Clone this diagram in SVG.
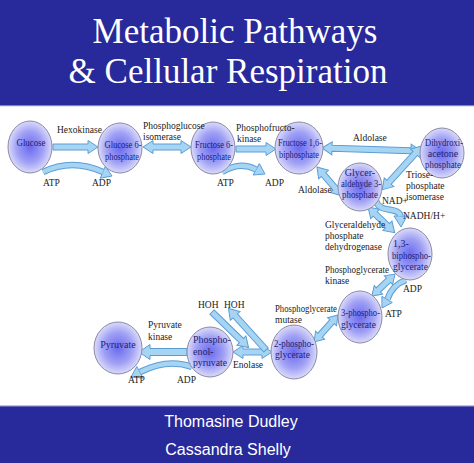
<svg xmlns="http://www.w3.org/2000/svg" width="474" height="463" viewBox="0 0 474 463">
<defs>
<radialGradient id="ng" cx="50%" cy="50%" r="50%">
<stop offset="0" stop-color="#6a6aef"/>
<stop offset="0.6" stop-color="#a0a0f5"/>
<stop offset="1" stop-color="#dadafa"/>
</radialGradient>
<style>
.band{fill:#28299b}
.title{font-family:"Liberation Serif",serif;font-size:35px;fill:#fff;text-anchor:middle}
.auth{font-family:"Liberation Sans",sans-serif;font-size:16px;fill:#fff;text-anchor:middle}
.node ellipse{fill:url(#ng);stroke:#8a8aa6;stroke-width:1}
.nt{font-family:"Liberation Serif",serif;font-size:10px;fill:#1e1e70}
.m{text-anchor:middle}
.lb{font-family:"Liberation Serif",serif;font-size:9.5px;fill:#1a1a1a}
.ar{fill:#a6d4f3;stroke:#5c9dd6;stroke-width:1;stroke-linejoin:miter}
.co{fill:none;stroke:#5c9dd6;stroke-width:6.5}
.ci{fill:none;stroke:#a6d4f3;stroke-width:4.5}
</style>
</defs>
<rect width="474" height="463" fill="#fff"/>
<rect class="band" x="0" y="0" width="474" height="106"/>
<rect x="0" y="105" width="474" height="1.2" fill="#7f80c8"/>
<text class="title" x="235" y="43">Metabolic Pathways</text>
<text class="title" x="228" y="83">&amp; Cellular Respiration</text>
<rect class="band" x="0" y="406" width="474" height="57"/>
<rect x="0" y="405.5" width="474" height="1.2" fill="#7f80c8"/>
<text class="auth" x="231" y="427">Thomasine Dudley</text>
<text class="auth" x="228" y="455">Cassandra Shelly</text>

<g id="connectors">
<polygon class="ar" transform="translate(53,147)" points="0,-3 35,-3 35,-6.5 45,0 35,6.5 35,3 0,3"/>
<polygon class="ar" transform="translate(143,147)" points="0,0 10,-6.5 10,-3 38,-3 38,-6.5 48,0 38,6.5 38,3 10,3 10,6.5"/>
<polygon class="ar" transform="translate(236,149)" points="0,-3 30,-3 30,-6.5 40,0 30,6.5 30,3 0,3"/>
<polygon class="ar" transform="translate(322,148) rotate(1.7)" points="0,0 10,-6.5 10,-3 89,-3 89,-6.5 99,0 89,6.5 89,3 10,3 10,6.5"/>
<polygon class="ar" transform="translate(317,167) rotate(49.2)" points="0,0 10,-6.5 10,-3 28,-3 28,-6.5 38,0 28,6.5 28,3 10,3 10,6.5"/>
<polygon class="ar" transform="translate(422,146) rotate(132.3)" points="0,0 10,-6.5 10,-3 49,-3 49,-6.5 59,0 49,6.5 49,3 10,3 10,6.5"/>
<polygon class="ar" transform="translate(368,207) rotate(43.9)" points="0,0 10,-6.5 10,-3 27,-3 27,-6.5 37,0 27,6.5 27,3 10,3 10,6.5"/>
<polygon class="ar" transform="translate(395,274) rotate(136.3)" points="0,0 9,-6 9,-3 23,-3 23,-6 32,0 23,6 23,3 9,3 9,6"/>
<polygon class="ar" transform="translate(338,315) rotate(131.6)" points="0,0 9,-6 9,-3 27,-3 27,-6 36,0 27,6 27,3 9,3 9,6"/>
<polygon class="ar" transform="translate(233,352)" points="0,0 10,-6.5 10,-3 29,-3 29,-6.5 39,0 29,6.5 29,3 10,3 10,6.5"/>
<polygon class="ar" transform="translate(212,312) rotate(44.2)" points="0,-3 41,-3 41,-6.5 51,0 41,6.5 41,3 0,3"/>
<polygon class="ar" transform="translate(266,350) rotate(-132.1)" points="0,-3 46,-3 46,-6.5 56,0 46,6.5 46,3 0,3"/>
<polygon class="ar" transform="translate(187,352) rotate(180)" points="0,-3.5 37,-3.5 37,-7.5 48,0 37,7.5 37,3.5 0,3.5"/>

<path class="co" d="M43,172 Q72,158 103,172"/>
<polygon class="ar" points="100.3,178.2 112,176 105.3,166.2"/>
<path class="ci" d="M43,172 Q72,158 103,172"/>

<path class="co" d="M222,172 Q240,161 256,169.5"/>
<polygon class="ar" points="253.1,175 265,174 259.3,163.6"/>
<path class="ci" d="M222,172 Q240,161 256,169.5"/>

<path class="co" d="M376,201 C380,214 398,206 400.5,216"/>
<polygon class="ar" points="394,216 401,227 407,216"/>
<path class="ci" d="M376,201 C380,214 398,206 400.5,216"/>

<path class="co" d="M406,280 Q392,285 387.5,299"/>
<polygon class="ar" points="392.3,302.5 382,308 381.9,296.3"/>
<path class="ci" d="M406,280 Q392,285 387.5,299"/>

<path class="co" d="M192,367 Q168,358 140,372"/>
<polygon class="ar" points="136.8,366.5 131,377 143,378.1"/>
<path class="ci" d="M192,367 Q168,358 140,372"/>
</g>

<g id="glucose" class="node"><ellipse cx="30" cy="147" rx="22" ry="26"/><text class="nt m" x="31" y="146" textLength="29" lengthAdjust="spacingAndGlyphs">Glucose</text></g>
<g id="g6p" class="node"><ellipse cx="120" cy="148" rx="22" ry="25"/><text class="nt m" x="123" y="148" textLength="37" lengthAdjust="spacingAndGlyphs">Glucose 6-</text><text class="nt m" x="122" y="160" textLength="34" lengthAdjust="spacingAndGlyphs">phosphate</text></g>
<g id="f6p" class="node"><ellipse cx="213" cy="148" rx="22" ry="26"/><text class="nt m" x="214" y="148" textLength="38" lengthAdjust="spacingAndGlyphs">Fructose 6-</text><text class="nt m" x="214" y="160" textLength="34" lengthAdjust="spacingAndGlyphs">phosphate</text></g>
<g id="f16bp" class="node"><ellipse cx="299" cy="148" rx="24" ry="26"/><text class="nt m" x="300" y="146" textLength="44" lengthAdjust="spacingAndGlyphs">Fructose 1,6-</text><text class="nt m" x="299" y="158" textLength="40" lengthAdjust="spacingAndGlyphs">biphosphate</text></g>
<g id="dhap" class="node"><ellipse cx="442" cy="153" rx="22" ry="25"/><text class="nt m" x="444" y="146" textLength="38" lengthAdjust="spacingAndGlyphs">Dihydroxi-</text><text class="nt m" x="443" y="157">acetone</text><text class="nt m" x="443" y="168" textLength="36" lengthAdjust="spacingAndGlyphs">phosphate</text></g>
<g id="g3p" class="node"><ellipse cx="360" cy="187" rx="22" ry="24"/><text class="nt m" x="360" y="176">Glycer-</text><text class="nt m" x="361" y="187" textLength="40" lengthAdjust="spacingAndGlyphs">aldehyde 3-</text><text class="nt m" x="360" y="198" textLength="36" lengthAdjust="spacingAndGlyphs">phosphate</text></g>
<g id="bpg13" class="node"><ellipse cx="410" cy="254" rx="22" ry="26"/><text class="nt" x="393" y="247">1,3-</text><text class="nt" x="392" y="259" textLength="39" lengthAdjust="spacingAndGlyphs">biphospho-</text><text class="nt" x="393" y="270" textLength="35" lengthAdjust="spacingAndGlyphs">glycerate</text></g>
<g id="pg3" class="node"><ellipse cx="360" cy="317" rx="22" ry="26"/><text class="nt" x="341" y="316" textLength="39" lengthAdjust="spacingAndGlyphs">3-phospho-</text><text class="nt" x="341" y="328" textLength="35" lengthAdjust="spacingAndGlyphs">glycerate</text></g>
<g id="pg2" class="node"><ellipse cx="294" cy="352" rx="23" ry="27"/><text class="nt" x="274" y="347" textLength="40" lengthAdjust="spacingAndGlyphs">2-phospho-</text><text class="nt" x="275" y="358" textLength="35" lengthAdjust="spacingAndGlyphs">glycerate</text></g>
<g id="pep" class="node"><ellipse cx="210" cy="352" rx="23" ry="25"/><text class="nt" x="193" y="343">Phospho-</text><text class="nt" x="193" y="355">enol-</text><text class="nt" x="193" y="366" textLength="34" lengthAdjust="spacingAndGlyphs">pyruvate</text></g>
<g id="pyruvate" class="node"><ellipse cx="118" cy="348" rx="24" ry="26"/><text class="nt m" x="118" y="348">Pyruvate</text></g>

<g id="labels">
<text class="lb" x="57" y="133">Hexokinase</text>
<text class="lb" x="143" y="129">Phosphoglucose</text>
<text class="lb" x="143" y="140">isomerase</text>
<text class="lb" x="236" y="131">Phosphofructo-</text>
<text class="lb" x="237" y="142">kinase</text>
<text class="lb" x="353" y="141">Aldolase</text>
<text class="lb" x="298" y="193">Aldolase</text>
<text class="lb" x="406" y="178">Triose-</text>
<text class="lb" x="406" y="189">phosphate</text>
<text class="lb" x="406" y="200">isomerase</text>
<text class="lb" x="382" y="204">NAD+</text>
<text class="lb" x="403" y="219">NADH/H+</text>
<text class="lb" x="325" y="228">Glyceraldehyde</text>
<text class="lb" x="325" y="239">phosphate</text>
<text class="lb" x="325" y="250">dehydrogenase</text>
<text class="lb" x="325" y="273" textLength="64" lengthAdjust="spacingAndGlyphs">Phosphoglycerate</text>
<text class="lb" x="325" y="284">kinase</text>
<text class="lb" x="403" y="292">ADP</text>
<text class="lb" x="385" y="317">ATP</text>
<text class="lb" x="275" y="312" textLength="62" lengthAdjust="spacingAndGlyphs">Phosphoglycerate</text>
<text class="lb" x="275" y="323">mutase</text>
<text class="lb" x="198" y="308">HOH</text>
<text class="lb" x="224" y="308">HOH</text>
<text class="lb" x="148" y="328">Pyruvate</text>
<text class="lb" x="148" y="340">kinase</text>
<text class="lb" x="233" y="368">Enolase</text>
<text class="lb" x="128" y="383">ATP</text>
<text class="lb" x="177" y="383">ADP</text>
<text class="lb" x="43" y="186">ATP</text>
<text class="lb" x="92" y="186">ADP</text>
<text class="lb" x="217" y="186">ATP</text>
<text class="lb" x="265" y="186">ADP</text>
</g>
</svg>
